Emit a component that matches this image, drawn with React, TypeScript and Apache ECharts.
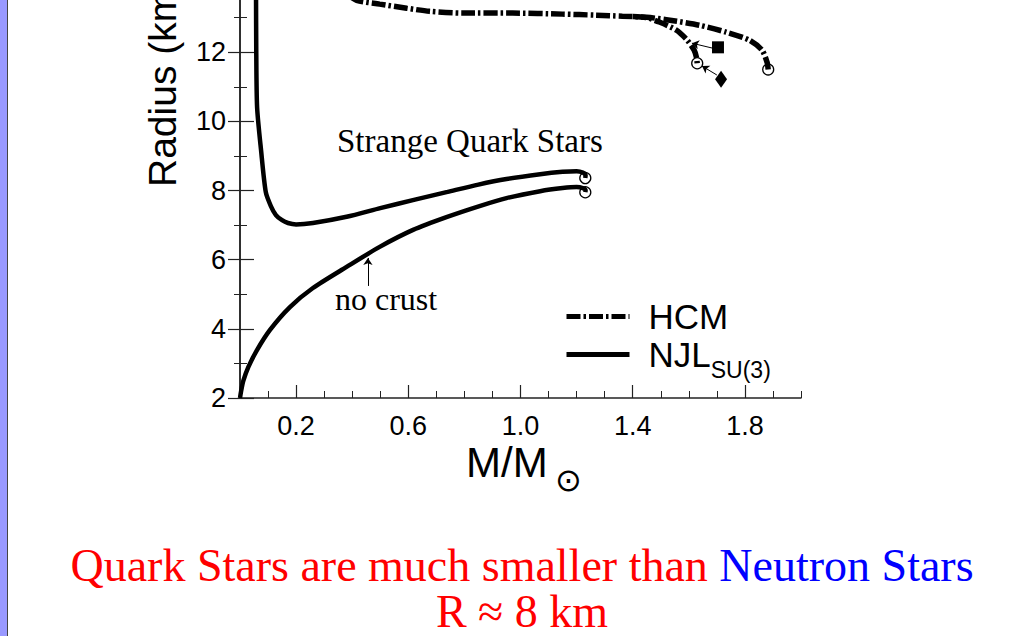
import React, { useEffect, useRef } from "react";
import * as echarts from "echarts";

// Tick labels on the mass axis
const massTicks = [0.2, 0.6, 1.0, 1.4, 1.8];

// HCM (hadronic) mass-radius curves [M/Msun, R km]
const hcmMain = [
  [0.33, 14.0], [0.37, 13.75], [0.416, 13.5], [0.498, 13.39], [0.594, 13.27], [0.676, 13.18],
  [0.794, 13.13], [0.972, 13.13], [1.149, 13.1], [1.27, 13.07], [1.363, 13.04], [1.45, 13.01],
  [1.52, 12.94], [1.637, 12.78], [1.733, 12.58], [1.815, 12.35], [1.861, 12.06], [1.879, 11.71],
  [1.883, 11.5],
];
const hcmBranch = [
  [1.40, 13.03], [1.448, 13.0], [1.495, 12.87], [1.555, 12.64], [1.594, 12.35], [1.619, 12.06],
  [1.627, 11.86], [1.63, 11.68],
];

// NJL SU(3) strange quark star curves
const njlCrust = [
  [0.057, 14.0], [0.058, 12.0], [0.061, 10.4], [0.075, 9.17], [0.092, 7.95], [0.11, 7.55],
  [0.128, 7.29], [0.15, 7.14], [0.171, 7.06], [0.2, 7.02], [0.26, 7.06], [0.38, 7.24],
  [0.5, 7.49], [0.62, 7.73], [0.74, 7.96], [0.85, 8.17], [0.95, 8.33], [1.07, 8.47],
  [1.15, 8.54], [1.2, 8.56], [1.222, 8.52], [1.232, 8.44], [1.231, 8.36],
];
const njlNoCrust = [
  [0.0, 2.0], [0.004, 2.2], [0.012, 2.5], [0.03, 2.9], [0.06, 3.38], [0.107, 3.97],
  [0.178, 4.63], [0.26, 5.18], [0.38, 5.79], [0.498, 6.37], [0.617, 6.86], [0.736, 7.23],
  [0.854, 7.55], [0.95, 7.78], [1.07, 7.98], [1.15, 8.07], [1.2, 8.1], [1.222, 8.07],
  [1.232, 8.01], [1.231, 7.95],
];

// maximum-mass end points (open circles)
const endPoints = [[1.231, 8.36], [1.231, 7.95], [1.883, 11.5], [1.63, 11.68]];
const squarePoint = [1.704, 12.14];
const diamondPoint = [1.715, 11.22];

// annotation arrows [from, to]
const arrows = [
  [[1.255, 14.2], [1.255, 13.16]],
  [[1.683, 12.12], [1.611, 12.26]],
  [[1.7, 11.34], [1.647, 11.6]],
  [[0.456, 5.24], [0.456, 6.05]],
];

const SANS = "Liberation Sans";
const SERIF = "Liberation Serif";

export default function App() {
  const ref = useRef<HTMLDivElement>(null);
  useEffect(() => {
    if (!ref.current) return;
    const chart = echarts.init(ref.current, null, { renderer: "svg" });
    const hcmStyle = { color: "#000", width: 5.5, type: [14, 3, 2.5, 3], cap: "butt" };
    const njlStyle = { color: "#000", width: 4.5, type: "solid" };
    chart.setOption({
      animation: false,
      backgroundColor: "#fff",
      grid: { left: 240, right: 211, top: -17, bottom: 238, containLabel: false, outerBoundsMode: "none" },
      xAxis: [
        {
          type: "value", min: 0, max: 2, interval: 0.1,
          axisLine: { lineStyle: { color: "#222", width: 1.5 } },
          axisTick: { inside: true, length: 7, lineStyle: { color: "#222", width: 1 } },
          axisLabel: { show: false },
          splitLine: { show: false },
        },
        {
          type: "value", min: 0, max: 2, position: "bottom",
          axisLine: { show: false },
          axisTick: { inside: true, length: 13, customValues: massTicks, lineStyle: { color: "#222", width: 1.2 } },
          axisLabel: {
            customValues: massTicks, margin: 14, color: "#000", fontSize: 27, fontFamily: SANS,
            formatter: (v: number) => v.toFixed(1),
          },
          splitLine: { show: false },
        },
      ],
      yAxis: [
        {
          type: "value", min: 2, max: 14, interval: 2,
          axisLine: { show: true, lineStyle: { color: "#222", width: 1.5 } },
          axisTick: { show: true, inside: true, length: 14, lineStyle: { color: "#222", width: 1.2 } },
          minorTick: { show: true, splitNumber: 2, length: 7, lineStyle: { color: "#222", width: 1 } },
          axisLabel: { margin: 14, color: "#000", fontSize: 27, fontFamily: SANS, showMaxLabel: false },
          splitLine: { show: false },
        },
        {
          type: "value", min: 2, max: 14, interval: 2, position: "right",
          axisLine: { show: true, lineStyle: { color: "#222", width: 1.5 } },
          axisTick: { show: true, inside: true, length: 12, lineStyle: { color: "#222", width: 1.2 } },
          minorTick: { show: true, splitNumber: 2, length: 6, lineStyle: { color: "#222", width: 1 } },
          axisLabel: { show: false },
          splitLine: { show: false },
        },
      ],
      legend: {
        data: ["HCM", "NJL"],
        orient: "vertical",
        left: 564,
        top: 299,
        padding: 0,
        itemWidth: 63,
        itemHeight: 20,
        itemGap: 3,
        selectedMode: false,
        itemStyle: { opacity: 0 },
        lineStyle: { width: 5 },
        formatter: (n: string) => (n === "NJL" ? "{a|NJL}{s|SU(3)}" : "{a|HCM}"),
        textStyle: {
          rich: {
            a: { fontSize: 35, fontFamily: SANS, color: "#000", padding: [0, 0, 0, 14] },
            s: { fontSize: 23, fontFamily: SANS, color: "#000", padding: [30, 0, 0, 0] },
          },
        },
      },
      series: [
        { name: "HCM", type: "line", data: hcmMain, symbol: "none", smooth: 0.25, lineStyle: hcmStyle, itemStyle: { color: "#000" } },
        { name: "HCM", type: "line", data: hcmBranch, symbol: "none", smooth: 0.25, lineStyle: hcmStyle, itemStyle: { color: "#000" } },
        { name: "NJL", type: "line", data: njlCrust, symbol: "none", smooth: 0.25, lineStyle: njlStyle, itemStyle: { color: "#000" } },
        { name: "NJL", type: "line", data: njlNoCrust, symbol: "none", smooth: 0.25, lineStyle: njlStyle, itemStyle: { color: "#000" } },
        {
          name: "ends", type: "scatter", data: endPoints, symbol: "circle", symbolSize: 11, z: 5,
          itemStyle: { color: "rgba(0,0,0,0)", borderColor: "#000", borderWidth: 1.3, opacity: 1 },
        },
        {
          name: "marks", type: "scatter", z: 5,
          data: [
            { value: squarePoint, symbol: "rect", symbolSize: 12 },
            { value: diamondPoint, symbol: "diamond", symbolSize: [12, 17] },
          ],
          itemStyle: { color: "#000", opacity: 1 },
          markLine: {
            silent: true,
            symbol: ["none", "arrow"],
            symbolSize: 7,
            label: { show: false },
            lineStyle: { color: "#000", width: 1, type: "solid", opacity: 1 },
            data: arrows.map(([a, b]) => [{ coord: a }, { coord: b }]),
          },
        },
      ],
      graphic: [
        { type: "rect", left: 0, top: 0, shape: { x: 0, y: 0, width: 7, height: 636 }, style: { fill: "#9999ff" } },
        { type: "line", shape: { x1: 7.5, y1: 0, x2: 7.5, y2: 636 }, style: { stroke: "#444", lineWidth: 1 } },
        {
          type: "text", x: 162, y: 187, rotation: Math.PI / 2,
          style: { text: "Radius (km)", font: `39px "${SANS}"`, fill: "#000", align: "left", verticalAlign: "middle" },
        },
        {
          type: "text", x: 466, y: 462,
          style: { text: "M/M", font: `42px "${SANS}"`, fill: "#000", align: "left", verticalAlign: "middle" },
        },
        {
          type: "text", x: 555, y: 480,
          style: { text: "⊙", font: `32px "DejaVu Sans"`, fill: "#000", align: "left", verticalAlign: "middle" },
        },
        {
          type: "text", x: 337, y: 141,
          style: { text: "Strange Quark Stars", font: `33px "${SERIF}"`, fill: "#000", align: "left", verticalAlign: "middle" },
        },
        {
          type: "text", x: 335, y: 299,
          style: { text: "no crust", font: `32px "${SERIF}"`, fill: "#000", align: "left", verticalAlign: "middle" },
        },
        {
          type: "text", x: 522, y: 565,
          style: {
            text: "{r|Quark Stars are much smaller than }{b|Neutron Stars}",
            align: "center", verticalAlign: "middle",
            rich: {
              r: { fontSize: 46, fontFamily: SERIF, fill: "#ff0000", color: "#ff0000" },
              b: { fontSize: 46, fontFamily: SERIF, fill: "#0000ff", color: "#0000ff" },
            },
          },
        },
        {
          type: "text", x: 522, y: 611,
          style: { text: "R ≈ 8 km", font: `46px "${SERIF}"`, fill: "#ff0000", align: "center", verticalAlign: "middle" },
        },
      ],
    });
    return () => chart.dispose();
  }, []);
  return (
    <div
      ref={ref}
      style={{ position: "fixed", left: 0, top: 0, width: 1012, height: 636, background: "#fff" }}
    />
  );
}
